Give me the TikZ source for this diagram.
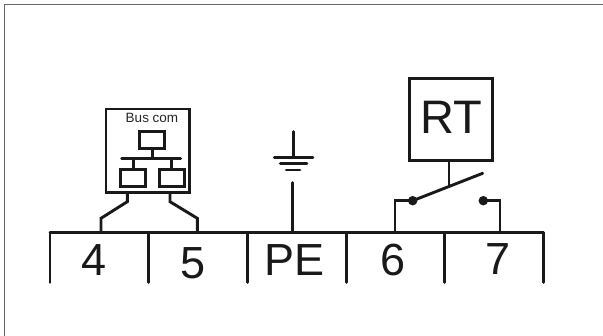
\documentclass[tikz,border=0pt]{standalone}
\usepackage{fontspec}
\setmainfont{Liberation Sans}
\usetikzlibrary{arrows}
\usetikzlibrary{calc}

\begin{document}
\begin{tikzpicture}[x=1pt,y=-1pt,line width=2.9pt,line join=miter]
		\tikzstyle{frameline}=[line width=1pt,color=black!60];
		\tikzstyle{wire}=[color=black!90];
		\tikzstyle{termlabel}=[anchor=base,inner sep=0pt,outer sep=0pt,font=\fontsize{45}{45}\selectfont,color=black!90];
		\tikzstyle{unitbox}=[rectangle,draw=black!90,inner sep=0pt,outer sep=0pt];
		\tikzstyle{netbox}=[unitbox,minimum width=25pt,minimum height=17pt];
		\tikzstyle{contact}=[circle,fill=black!90,inner sep=0pt,outer sep=0pt,minimum size=9.5pt];
		\useasboundingbox(0,0)rectangle(603,336);
		\draw[frameline](4.5,336)--(4.5,5)--(603,5);

		% terminal strip
		\coordinate(t0)at(50,232.5);
		\coordinate[node distance=98.7pt,right of=t0](t1);
		\coordinate[node distance=98.7pt,right of=t1](t2);
		\coordinate[node distance=98.7pt,right of=t2](t3);
		\coordinate[node distance=98.7pt,right of=t3](t4);
		\coordinate[node distance=98.7pt,right of=t4](t5);
		\draw[wire,line cap=round](t0)--(t5);
		\foreach \t in {t0,t1,t2,t3,t4,t5}
			\draw[wire,line cap=round](\t)--($(\t)+(0,50)$);
		\node[termlabel](l4)at(94,276){4};
		\node[termlabel](l5)at(193.5,279){5};
		\node[termlabel](lPE)at(294.6,275.5){PE};
		\node[termlabel](l6)at(393,276){6};
		\node[termlabel](l7)at(498,275){7};

		% bus module
		\node[unitbox,minimum width=83.5pt,minimum height=83.5pt](bus)at(147.7,150.8){};
		\node[anchor=base,inner sep=0pt,font=\fontsize{13.5}{13.5}\selectfont,color=black!85](buslabel)at(152,122.7){Bus com};
		\node[netbox](net0)at(152.3,139.6){};
		\node[netbox](net1)at(133.3,177.6){};
		\node[netbox](net2)at(171.6,177.6){};
		\coordinate(busl)at(121.7,158.3);
		\coordinate(busr)at(180.7,158.3);
		\draw[wire,line cap=round](busl)--(busr);
		\draw[wire](net0.south)--(net0.south|-busl);
		\draw[wire](net1.north)--(net1.north|-busl);
		\draw[wire](net2.north)--(net2.north|-busl);
		\draw[wire](127.3,192.5)--(127.3,201.7)--(101,218.3)--(101,232.5);
		\draw[wire](170,192.5)--(170,201.7)--(197.3,218.3)--(197.3,232.5);

		% earth
		\coordinate(pe0)at(293.3,131.7);
		\coordinate(pe1)at(293.3,157.3);
		\coordinate(pe2)at(292.3,182.7);
		\draw[wire,line cap=round](pe0)--(pe1);
		\draw[wire,line cap=round]($(pe1)+(-19,0)$)--($(pe1)+(19.5,0)$);
		\draw[wire,line cap=round]($(pe1)+(-13,6)$)--($(pe1)+(13.5,6)$);
		\draw[wire,line cap=round]($(pe1)+(-7,12.7)$)--($(pe1)+(6.7,12.7)$);
		\draw[wire,line cap=round](pe2)--(pe2|-t0);

		% relay
		\node[unitbox,minimum width=83.4pt,minimum height=82.4pt](rt)at(451,119.5){};
		\node[anchor=base,inner sep=0pt,font=\fontsize{47}{47}\selectfont,color=black!90](rtlabel)at(451,134){RT};
		\node[contact](c0)at(412.7,200.7){};
		\node[contact](c1)at(483.3,200.7){};
		\coordinate(blade)at(482.7,173.3);
		\draw[wire,line cap=round](c0.center)--(blade);
		\draw[wire](449,160.7)--(449,185.7);
		\draw[wire](c0.center)-|(395,232.5);
		\draw[wire](c1.center)-|(500,232.5);
	\end{tikzpicture}
\end{document}
